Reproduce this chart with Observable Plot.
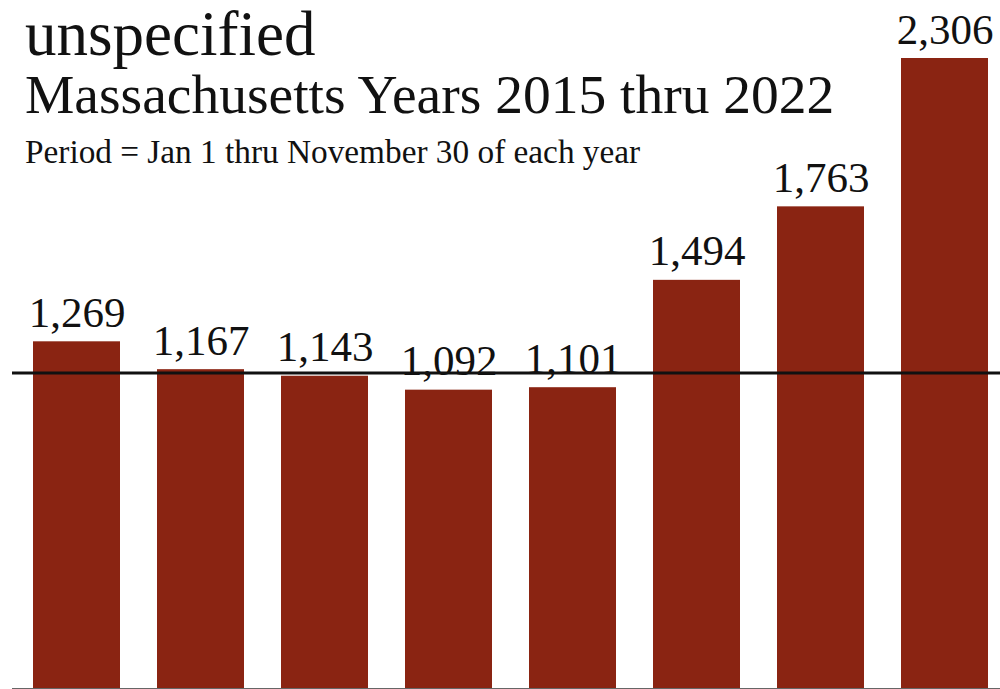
<!DOCTYPE html>
<html><head><meta charset="utf-8">
<script src="https://cdn.jsdelivr.net/npm/d3@7"></script>
<script src="https://cdn.jsdelivr.net/npm/@observablehq/plot@0.6"></script>
<style>
html,body{margin:0;padding:0;background:#fff;}
#wrap{position:relative;width:1000px;height:689px;overflow:hidden;font-family:"Liberation Serif","Times New Roman",serif;color:#111;}
#chart{position:absolute;left:0;top:0;}
.t{position:absolute;left:25px;white-space:nowrap;line-height:1;}
</style></head><body>
<div id="wrap">
  <div id="chart"></div>
  <div class="t" style="top:0px;font-size:63px;line-height:1.107">unspecified</div>
  <div class="t" style="top:67px;font-size:55.5px">Massachusetts Years 2015 thru 2022</div>
  <div class="t" style="top:135px;font-size:33.3px">Period = Jan 1 thru November 30 of each year</div>
</div>
<script>
const years = ["2015", "2016", "2017", "2018", "2019", "2020", "2021", "2022"];
const counts = [1269, 1167, 1143, 1092, 1101, 1494, 1763, 2306];
const baselineYears = ["2015", "2016", "2017", "2018", "2019"];

const data = years.map((y, i) => ({year: y, count: counts[i]}));
const avg = d3.mean(data.filter(d => baselineYears.includes(d.year)), d => d.count);
const fmt = d3.format(",");

const chart = Plot.plot({
  width: 1000,
  height: 689,
  marginTop: 58,
  marginBottom: 1,
  marginLeft: 12,
  marginRight: 0,
  style: {fontFamily: "Liberation Serif", background: "#fff"},
  x: {domain: years, axis: null, paddingInner: 0.3, paddingOuter: 0.112, align: 0.643},
  y: {domain: [0, d3.max(counts)], axis: null},
  marks: [
    Plot.barY(data, {x: "year", y: "count", fill: "#8a2412"}),
    Plot.ruleY([0], {stroke: "#666", strokeWidth: 1}),
    Plot.text(data, {x: "year", y: "count", text: d => fmt(d.count), lineAnchor: "bottom", dy: -15, fontSize: 43, fill: "#111", fontFamily: "Liberation Serif"}),
    Plot.ruleY([avg], {stroke: "#111", strokeWidth: 3})
  ]
});
document.getElementById("chart").appendChild(chart);
</script>
</body></html>
